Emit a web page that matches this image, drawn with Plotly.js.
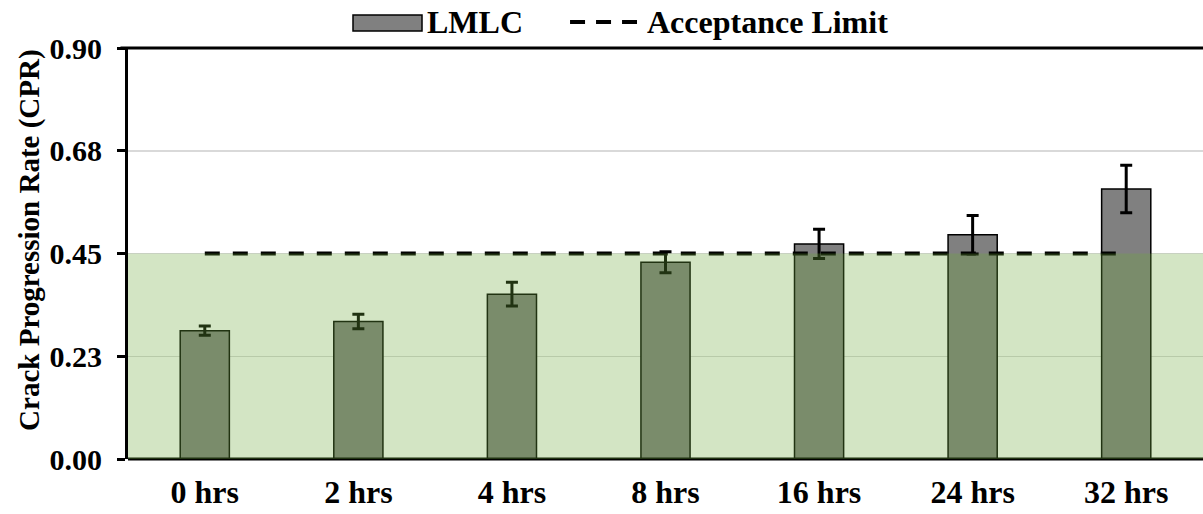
<!DOCTYPE html>
<html>
<head>
<meta charset="utf-8">
<script src="https://cdn.plot.ly/plotly-3.0.1.min.js"></script>
<style>
  html, body { margin: 0; padding: 0; background: #ffffff; }
  #chart { width: 1203px; height: 514px; }
</style>
</head>
<body>
<div id="chart"></div>
<script>
// Curing durations and measured crack progression rates
const categories = ["0 hrs", "2 hrs", "4 hrs", "8 hrs", "16 hrs", "24 hrs", "32 hrs"];
const cprValues = [0.281, 0.301, 0.361, 0.431, 0.471, 0.491, 0.591];
const cprErrors = [0.010, 0.016, 0.026, 0.023, 0.032, 0.042, 0.052];
const acceptanceLimit = 0.45;
const limitValues = categories.map(() => acceptanceLimit);

const yTickVals = [0, 0.225, 0.45, 0.675, 0.9];
const yTickText = ["0.00", "0.23", "0.45", "0.68", "0.90"];

const seriesNames = ["LMLC", "Acceptance Limit"];

const FONT = "Liberation Serif, Times New Roman, serif";

const traces = [
  {
    type: "bar",
    name: seriesNames[0],
    x: categories,
    y: cprValues,
    width: 0.32,
    marker: { color: "#808080", line: { color: "#000000", width: 1.5 } },
    error_y: { type: "data", array: cprErrors, visible: true, color: "#000000", thickness: 3, width: 6 },
    showlegend: false
  },
  {
    type: "scatter",
    mode: "lines",
    name: seriesNames[1],
    x: categories,
    y: limitValues,
    line: { color: "#000000", width: 4, dash: "15px,13px" },
    showlegend: false
  }
];

const layout = {
  width: 1203,
  height: 514,
  margin: { l: 128, r: 0, t: 48, b: 55 },
  paper_bgcolor: "#ffffff",
  plot_bgcolor: "#ffffff",
  showlegend: false,
  font: { family: FONT, color: "#000000" },
  xaxis: {
    type: "category",
    range: [-0.5, categories.length - 0.5],
    showgrid: false,
    showline: false,
    zeroline: false,
    ticks: "",
    ticklabelstandoff: 11,
    tickfont: { family: FONT, size: 32, weight: "bold", color: "#000000" },
    fixedrange: true
  },
  yaxis: {
    range: [0, 0.9],
    tickvals: yTickVals,
    ticktext: yTickText,
    showgrid: true,
    gridcolor: "#d9d9d9",
    gridwidth: 1.5,
    zeroline: false,
    showline: true,
    linecolor: "#000000",
    linewidth: 3,
    ticks: "outside",
    ticklen: 8,
    tickwidth: 3,
    tickcolor: "#000000",
    ticklabelstandoff: 9,
    tickfont: { family: FONT, size: 30, weight: "bold", color: "#000000" },
    fixedrange: true
  },
  shapes: [
    // bottom frame line (sits under the tinted zone)
    {
      type: "line", layer: "above",
      xref: "paper", yref: "paper",
      x0: 0, x1: 1, y0: 0, y1: 0,
      line: { color: "#000000", width: 3 }
    },
    // acceptable zone, tinted over the bars
    {
      type: "rect", layer: "above",
      xref: "paper", x0: 0, x1: 1,
      yref: "y", y0: -0.004, y1: acceptanceLimit,
      fillcolor: "rgba(108,168,58,0.30)",
      line: { width: 0 }
    },
    // top frame line
    {
      type: "line", layer: "above",
      xref: "paper", yref: "paper",
      x0: -0.007, x1: 1, y0: 1, y1: 1,
      line: { color: "#000000", width: 3 }
    },
    // legend swatch: bar
    {
      type: "rect", xref: "paper", yref: "paper",
      x0: 0.2093, x1: 0.2735, y0: 1.0414, y1: 1.0803,
      fillcolor: "#808080", line: { color: "#000000", width: 1.5 }
    },
    // legend swatch: dashed limit line
    {
      type: "line", xref: "paper", yref: "paper",
      x0: 0.4112, x1: 0.4735, y0: 1.0633, y1: 1.0633,
      line: { color: "#000000", width: 4, dash: "15px,11px" }
    }
  ],
  annotations: [
    {
      text: "<b>Crack Progression Rate (CPR)</b>",
      xref: "paper", yref: "paper",
      x: -0.0912, y: 0.533,
      textangle: -90, showarrow: false,
      xanchor: "center", yanchor: "middle",
      font: { family: FONT, size: 29, color: "#000000" }
    },
    {
      text: "<b>" + seriesNames[0] + "</b>",
      xref: "paper", yref: "paper",
      x: 0.2763, y: 1.0633, xanchor: "left", yanchor: "middle",
      showarrow: false,
      font: { family: FONT, size: 32, color: "#000000" }
    },
    {
      text: "<b>" + seriesNames[1] + "</b>",
      xref: "paper", yref: "paper",
      x: 0.4809, y: 1.0633, xanchor: "left", yanchor: "middle",
      showarrow: false,
      font: { family: FONT, size: 32, color: "#000000" }
    }
  ]
};

Plotly.newPlot("chart", traces, layout, { displayModeBar: false, staticPlot: true });
</script>
</body>
</html>
